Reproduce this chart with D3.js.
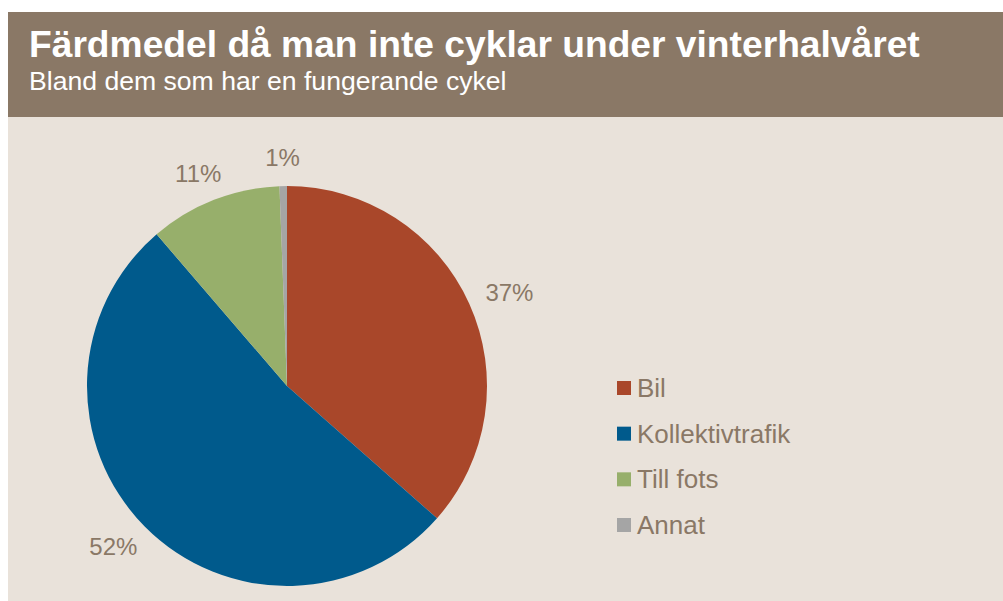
<!DOCTYPE html>
<html>
<head>
<meta charset="utf-8">
<script src="https://cdn.jsdelivr.net/npm/d3@7"></script>
<style>
  body { margin: 0; background: #ffffff; }
  svg { display: block; }
</style>
</head>
<body>
<svg id="chart"></svg>
<script>
// data
var categories = ["Bil", "Kollektivtrafik", "Till fots", "Annat"];
var shares = [36.5, 52.2, 10.7, 0.6];
var shareLabels = ["37%", "52%", "11%", "1%"];
var colors = ["#a9472a", "#005a8c", "#97af6b", "#a5a5a5"];

var titleText = "Färdmedel då man inte cyklar under vinterhalvåret";
var subtitleText = "Bland dem som har en fungerande cykel";

// layout
var width = 1003;
var height = 601;
var headerColor = "#8a7866";
var panelColor = "#e9e2da";
var labelColor = "#8a7866";
var fontFamily = "Liberation Sans, Arial, sans-serif";

var cx = 287, cy = 386, radius = 200, labelRadius = 220;
var labelSize = 24;

var svg = d3.select("#chart")
    .attr("width", width)
    .attr("height", height);

// panel + header band
svg.append("rect")
    .attr("x", 8).attr("y", 117)
    .attr("width", width - 8).attr("height", height - 117)
    .attr("fill", panelColor);

svg.append("rect")
    .attr("x", 8).attr("y", 12)
    .attr("width", width - 8).attr("height", 105)
    .attr("fill", headerColor);

svg.append("text")
    .attr("x", 29).attr("y", 57)
    .attr("font-family", fontFamily)
    .attr("font-weight", "bold")
    .attr("font-size", 37.2)
    .attr("fill", "#ffffff")
    .text(titleText);

svg.append("text")
    .attr("x", 29).attr("y", 90)
    .attr("font-family", fontFamily)
    .attr("font-size", 26.6)
    .attr("fill", "#ffffff")
    .text(subtitleText);

// pie
var pie = d3.pie().sort(null).value(function(d) { return d; });
var arcs = pie(shares);
var arc = d3.arc().innerRadius(0).outerRadius(radius);
var labelArc = d3.arc().innerRadius(labelRadius).outerRadius(labelRadius);

var g = svg.append("g").attr("transform", "translate(" + cx + "," + cy + ")");

g.selectAll("path")
    .data(arcs)
    .enter()
    .append("path")
    .attr("d", arc)
    .attr("fill", function(d, i) { return colors[i]; });

// outside-end labels: push the label box out so its edge sits near the rim
g.selectAll("text")
    .data(arcs)
    .enter()
    .append("text")
    .attr("text-anchor", "middle")
    .attr("dy", "0.35em")
    .attr("font-family", fontFamily)
    .attr("font-size", labelSize)
    .attr("fill", labelColor)
    .text(function(d, i) { return shareLabels[i]; })
    .attr("transform", function(d) {
        var c = labelArc.centroid(d);
        var a = (d.startAngle + d.endAngle) / 2;
        var w = this.getComputedTextLength();
        var x = c[0] + w / 2 * Math.sin(a);
        var y = c[1] - labelSize / 3 * Math.cos(a);
        return "translate(" + x + "," + y + ")";
    });

// legend
var legendY = d3.scalePoint()
    .domain(categories)
    .range([388, 525]);

var legend = svg.append("g");
var items = legend.selectAll("g")
    .data(categories)
    .enter()
    .append("g")
    .attr("transform", function(d) { return "translate(617," + legendY(d) + ")"; });

items.append("rect")
    .attr("x", 0).attr("y", -7)
    .attr("width", 14).attr("height", 14)
    .attr("fill", function(d, i) { return colors[i]; });

items.append("text")
    .attr("x", 20).attr("y", 9)
    .attr("font-family", fontFamily)
    .attr("font-size", 26)
    .attr("fill", labelColor)
    .text(function(d) { return d; });
</script>
</body>
</html>
